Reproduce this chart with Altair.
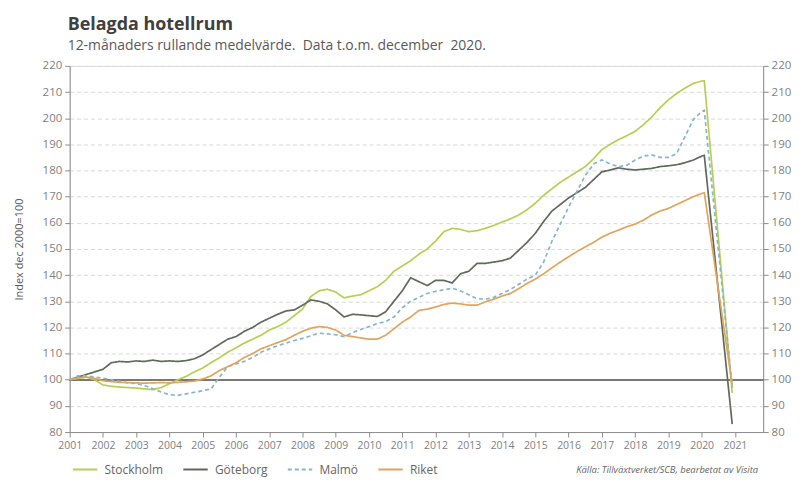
import altair as alt
import pandas as pd

quarters = [0.0, 0.25, 0.5, 0.75]
years = list(range(2001, 2020))
tail_times = [2020.0, 2020.08, 2020.92]
times = [y + q for y in years for q in quarters] + tail_times

stockholm = [
    100.0, 100.5, 101.0, 100.0,
    98.0, 97.5, 97.2, 97.0,
    96.8, 96.5, 96.2, 97.0,
    98.5, 100.0, 101.3, 103.0,
    104.5, 106.5, 108.4, 110.5,
    112.2, 114.0, 115.5, 117.0,
    119.0, 120.3, 122.0, 124.5,
    127.0, 131.8, 134.0, 134.6,
    133.5, 131.3, 132.0, 132.5,
    134.0, 135.6, 138.0, 141.5,
    143.5, 145.5, 148.0, 150.0,
    153.0, 156.6, 157.9, 157.5,
    156.6, 157.0, 157.9, 159.0,
    160.3, 161.5, 163.0, 165.0,
    167.5, 170.5, 173.0, 175.5,
    177.5, 179.5, 181.5, 184.5,
    188.0, 190.0, 191.8, 193.3,
    195.0, 197.5, 200.5, 204.0,
    207.0, 209.5, 211.5, 213.3,
    214.2, 214.3, 95.0,
]

goteborg = [
    100.0, 101.0, 102.0, 103.0,
    104.0, 106.5, 107.0, 106.8,
    107.2, 107.0, 107.5, 107.0,
    107.2, 107.0, 107.3, 108.0,
    109.5, 111.5, 113.5, 115.5,
    116.5, 118.5, 120.0, 122.0,
    123.5, 125.0, 126.3, 126.7,
    128.5, 130.5, 130.0, 129.0,
    126.7, 124.0, 125.0, 124.8,
    124.5, 124.2, 126.0, 130.0,
    134.0, 139.0, 137.5, 136.0,
    138.0, 138.0, 137.0, 140.5,
    141.5, 144.5, 144.5, 145.0,
    145.5, 146.5, 149.5, 152.5,
    156.0, 160.5, 164.5, 167.0,
    169.5, 171.5, 173.5, 176.5,
    179.5, 180.2, 181.0, 180.5,
    180.2, 180.5, 180.8, 181.5,
    181.8, 182.2, 183.0, 184.0,
    185.5, 185.8, 83.0,
]

malmo = [
    100.0, 101.5, 101.5, 101.0,
    100.6, 100.0, 99.4, 98.8,
    98.5, 97.8, 96.5, 95.3,
    94.3, 94.0, 94.6, 95.2,
    95.8, 96.5, 101.0, 105.0,
    106.0, 107.0, 108.5, 110.5,
    111.8, 113.0, 114.0, 115.0,
    115.8, 116.8, 117.8, 117.5,
    117.2, 116.5, 118.0, 119.2,
    120.3, 121.5, 122.2, 124.0,
    127.5, 130.0, 131.5, 133.0,
    133.8, 134.4, 135.0, 134.0,
    132.5, 131.0, 130.8, 131.5,
    133.0, 134.5, 136.5, 138.5,
    140.0, 145.0, 153.0, 159.5,
    166.0, 172.0, 178.0, 182.5,
    184.0, 182.5, 181.5, 182.0,
    184.0, 185.5, 186.0, 185.0,
    185.0, 186.5, 193.0, 199.5,
    202.5, 203.0, 97.0,
]

riket = [
    100.0, 100.8, 101.0, 100.5,
    99.6, 99.3, 99.0, 98.9,
    98.8, 98.7, 98.8, 98.9,
    98.8, 99.0, 99.2, 99.5,
    100.3, 101.5, 103.5, 105.0,
    106.5, 108.5, 110.0, 111.8,
    113.0, 114.2, 115.3, 117.0,
    118.5, 119.7, 120.3, 120.0,
    119.0, 117.0, 116.5, 116.0,
    115.5, 115.5, 117.0, 119.5,
    122.0, 124.0, 126.5, 127.0,
    127.8, 128.8, 129.3, 129.0,
    128.5, 128.5, 129.8, 130.8,
    132.0, 133.0, 134.8, 136.8,
    138.5, 140.5, 142.8, 145.0,
    147.0, 149.0, 150.8, 152.5,
    154.5, 156.0, 157.2, 158.5,
    159.5, 161.0, 163.0, 164.5,
    165.5, 167.0, 168.5, 170.0,
    171.2, 171.5, 98.0,
]

series_names = ["Stockholm", "Göteborg", "Malmö", "Riket"]
series_values = [stockholm, goteborg, malmo, riket]
series_colors = ["#b5cf50", "#5f695d", "#86b6cb", "#e2a35a"]
series_dashes = [[1, 0], [1, 0], [4, 3], [1, 0]]
x_ticks = list(range(2001, 2022))
y_ticks = list(range(80, 230, 10))

title_text = "Belagda hotellrum"
subtitle_text = "12-månaders rullande medelvärde.\u00a0 Data t.o.m. december\u00a0 2020."
y_title = "Index dec 2000=100"
source_text = "Källa: Tillväxtverket/SCB, bearbetat av Visita"

rows = []
for name, vals in zip(series_names, series_values):
    for t, v in zip(times, vals):
        rows.append({"t": t, "v": v, "serie": name})
df = pd.DataFrame(rows)

FONT = "Open Sans"
LABEL_COLOR = "#7f7f7f"
AXIS_COLOR = "#8c8c8c"

xscale = alt.Scale(domain=[2001, 2021.85], nice=False, zero=False)
yscale = alt.Scale(domain=[80, 220], nice=False, zero=False)

x_enc = alt.X(
    "t:Q",
    scale=xscale,
    axis=alt.Axis(
        values=x_ticks, format="d", title=None, grid=False,
        labelFont=FONT, labelFontSize=10.5, labelColor=LABEL_COLOR,
        domainColor=AXIS_COLOR, tickColor=AXIS_COLOR, tickSize=5,
        labelPadding=4, labelFlush=False, labelOverlap=False,
    ),
)

legend = alt.Legend(
    title=None, orient="none", direction="horizontal",
    legendX=2, legendY=392, symbolType="stroke",
    symbolSize=600, symbolStrokeWidth=2, labelFont=FONT,
    labelFontSize=12, labelColor="#666666", columnPadding=16,
    labelOffset=6,
)

lines = alt.Chart(df).mark_line(strokeWidth=1.7).encode(
    x=x_enc,
    y=alt.Y(
        "v:Q",
        scale=yscale,
        axis=alt.Axis(
            values=y_ticks, title=y_title, grid=True,
            gridDash=[4, 3], gridColor="#d9d9d9", gridWidth=1,
            labelFont=FONT, labelFontSize=11.5, labelColor=LABEL_COLOR,
            domainColor=AXIS_COLOR, tickColor=AXIS_COLOR, tickSize=5,
            labelPadding=3,
            titleFont=FONT, titleFontSize=11, titleFontWeight="normal",
            titleColor="#595959", titlePadding=18,
        ),
    ),
    color=alt.Color(
        "serie:N",
        scale=alt.Scale(domain=series_names, range=series_colors),
        sort=series_names,
        legend=legend,
    ),
    strokeDash=alt.StrokeDash(
        "serie:N",
        scale=alt.Scale(domain=series_names, range=series_dashes),
        sort=series_names,
        legend=legend,
    ),
    order=alt.Order("t:Q"),
)

baseline = alt.Chart(df).mark_rule(color="#7a7a7a", strokeWidth=1.2).encode(
    y=alt.YDatum(100, scale=yscale, axis=None),
)

right_axis = alt.Chart(df).mark_line(opacity=0).encode(
    x=x_enc,
    y=alt.Y(
        "v:Q",
        scale=yscale,
        axis=alt.Axis(
            orient="right", values=y_ticks, title=None, grid=False,
            labelFont=FONT, labelFontSize=11.5, labelColor=LABEL_COLOR,
            domainColor=AXIS_COLOR, tickColor=AXIS_COLOR, tickSize=5,
            labelPadding=3,
        ),
    ),
    detail="serie:N",
)

source = alt.Chart(pd.DataFrame({"s": [source_text]})).mark_text(
    font=FONT, fontSize=9.5, fontStyle="italic", color="#666666",
    align="right", baseline="middle",
).encode(
    text="s:N", x=alt.value(692), y=alt.value(406),
)

chart = alt.layer(baseline, lines, right_axis, source).resolve_scale(
    y="independent"
).properties(
    width=697,
    height=368,
    autosize=alt.AutoSizeParams(type="none"),
    padding={"left": 62, "top": 57, "right": 32, "bottom": 45},
    title=alt.TitleParams(
        title_text,
        subtitle=subtitle_text,
        anchor="start",
        frame="group",
        font=FONT,
        fontSize=18,
        fontWeight="bold",
        color="#404040",
        subtitleFont=FONT,
        subtitleFontSize=14,
        subtitleColor="#595959",
        subtitlePadding=5,
        offset=7,
        dx=-2,
    ),
).configure_view(stroke=None).configure(background="white")

chart.save("out.html", embed_options={"renderer": "svg", "actions": False})
